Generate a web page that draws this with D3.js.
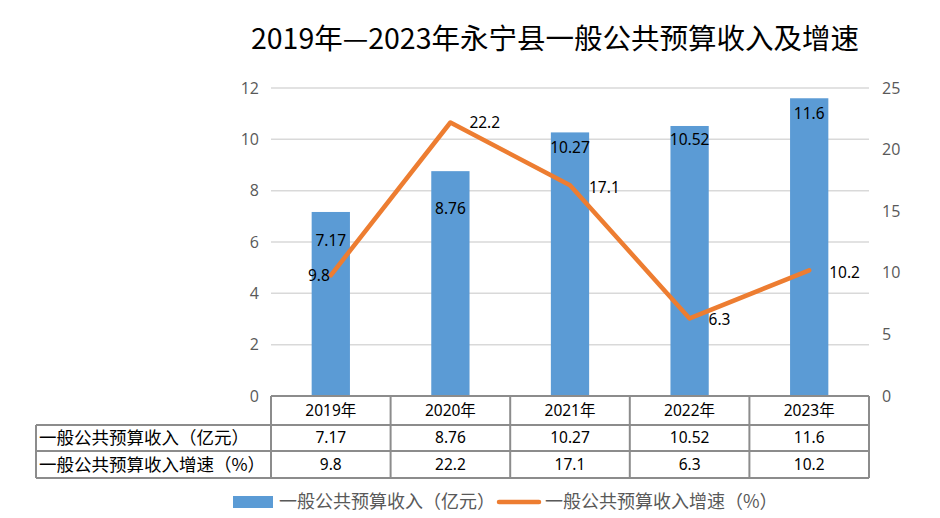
<!DOCTYPE html>
<html>
<head>
<meta charset="utf-8">
<script src="https://cdn.jsdelivr.net/npm/d3@7"></script>
<style>
  body { margin: 0; background: #fff; }
  svg { font-family: "Noto Sans", "Noto Sans CJK SC", sans-serif; }
</style>
</head>
<body>
<svg id="chart" width="940" height="518"></svg>
<script>
// data
const years = ["2019年", "2020年", "2021年", "2022年", "2023年"];
const revenue = [7.17, 8.76, 10.27, 10.52, 11.6];
const growth = [9.8, 22.2, 17.1, 6.3, 10.2];
const leftTicks = [0, 2, 4, 6, 8, 10, 12];
const rightTicks = [0, 5, 10, 15, 20, 25];
const revenueName = "一般公共预算收入（亿元）";
const growthName = "一般公共预算收入增速（%）";

// label nudges (px), picked by eye from the original
const barLabelDy = [29, 37, 15, 14, 15];
const lineLabelDx = [-1, 19, 19, 19, 20];
const lineLabelDy = [0, 0, 2, 1, 2];

const svg = d3.select("#chart");
const plotLeft = 271, plotRight = 869, plotTop = 88, plotBottom = 396;
const blue = "#5b9bd5", orange = "#ed7d31", gridC = "#d9d9d9", border = "#8c8c8c";

const x = d3.scaleBand().domain(years).range([plotLeft, plotRight]).padding(0);
const yL = d3.scaleLinear().domain([0, 12]).range([plotBottom, plotTop]);
const yR = d3.scaleLinear().domain([0, 25]).range([plotBottom, plotTop]);
const barW = x.bandwidth() * 0.32;

// title
svg.append("text")
  .attr("x", 555).attr("y", 49)
  .attr("text-anchor", "middle")
  .attr("font-family", "'Noto Sans CJK SC', sans-serif")
  .attr("font-size", 28.5)
  .attr("fill", "#000")
  .text("2019年—2023年永宁县一般公共预算收入及增速");

// gridlines
svg.append("g").selectAll("line")
  .data(leftTicks.filter(d => d > 0))
  .join("line")
  .attr("x1", plotLeft).attr("x2", plotRight)
  .attr("y1", d => yL(d)).attr("y2", d => yL(d))
  .attr("stroke", gridC).attr("stroke-width", 1.5);

// left axis
const axL = svg.append("g")
  .attr("transform", `translate(${plotLeft},0)`)
  .call(d3.axisLeft(yL).tickValues(leftTicks).tickSize(0).tickPadding(12));
axL.select(".domain").remove();
axL.selectAll("text").attr("font-size", 16).attr("fill", "#595959")
  .attr("font-family", "'Open Sans', sans-serif");

// right axis
const axR = svg.append("g")
  .attr("transform", `translate(${plotRight},0)`)
  .call(d3.axisRight(yR).tickValues(rightTicks).tickSize(0).tickPadding(13));
axR.select(".domain").remove();
axR.selectAll("text").attr("font-size", 16).attr("fill", "#595959")
  .attr("font-family", "'Open Sans', sans-serif");

// bars
svg.append("g").selectAll("rect")
  .data(revenue)
  .join("rect")
  .attr("x", (d, i) => x(years[i]) + x.bandwidth() / 2 - barW / 2)
  .attr("y", d => yL(d))
  .attr("width", barW)
  .attr("height", d => yL(0) - yL(d))
  .attr("fill", blue);

// bar labels
svg.append("g").selectAll("text")
  .data(revenue)
  .join("text")
  .attr("x", (d, i) => x(years[i]) + x.bandwidth() / 2)
  .attr("y", (d, i) => yL(d) + barLabelDy[i])
  .attr("dy", "0.35em")
  .attr("text-anchor", "middle")
  .attr("font-size", 15.5)
  .attr("fill", "#000")
  .text(d => d);

// growth line
const line = d3.line()
  .x((d, i) => x(years[i]) + x.bandwidth() / 2)
  .y(d => yR(d));
svg.append("path")
  .datum(growth)
  .attr("d", line)
  .attr("fill", "none")
  .attr("stroke", orange)
  .attr("stroke-width", 4.5)
  .attr("stroke-linejoin", "round")
  .attr("stroke-linecap", "round");

// line labels
svg.append("g").selectAll("text")
  .data(growth)
  .join("text")
  .attr("x", (d, i) => x(years[i]) + x.bandwidth() / 2 + lineLabelDx[i])
  .attr("y", (d, i) => yR(d) + lineLabelDy[i])
  .attr("dy", "0.35em")
  .attr("text-anchor", (d, i) => lineLabelDx[i] < 0 ? "end" : "start")
  .attr("font-size", 15.5)
  .attr("fill", "#000")
  .text(d => d);

// data table
const tableLeft = 36;
const rowY = [396, 425, 451, 478];
const table = svg.append("g");
table.selectAll("line.h")
  .data(rowY)
  .join("line")
  .attr("x1", (d, i) => i === 0 ? plotLeft : tableLeft)
  .attr("x2", plotRight)
  .attr("y1", d => d).attr("y2", d => d)
  .attr("stroke", border).attr("stroke-width", 2);
const colX = years.map(y => x(y)).concat([plotRight]);
table.append("g").selectAll("line")
  .data(colX)
  .join("line")
  .attr("x1", d => d).attr("x2", d => d)
  .attr("y1", rowY[0]).attr("y2", rowY[3])
  .attr("stroke", border).attr("stroke-width", 2);
table.append("line")
  .attr("x1", tableLeft).attr("x2", tableLeft)
  .attr("y1", rowY[1]).attr("y2", rowY[3])
  .attr("stroke", border).attr("stroke-width", 2);

const mid = r => (rowY[r] + rowY[r + 1]) / 2;
table.append("g").selectAll("text")
  .data(years)
  .join("text")
  .attr("x", d => x(d) + x.bandwidth() / 2)
  .attr("y", mid(0))
  .attr("dy", "0.35em")
  .attr("text-anchor", "middle")
  .attr("font-size", 15.5)
  .text(d => d);
[revenue, growth].forEach((row, r) => {
  table.append("g").selectAll("text")
    .data(row)
    .join("text")
    .attr("x", (d, i) => x(years[i]) + x.bandwidth() / 2)
    .attr("y", mid(r + 1))
    .attr("dy", "0.35em")
    .attr("text-anchor", "middle")
    .attr("font-size", 15.5)
    .text(d => d);
});
[revenueName, growthName].forEach((name, r) => {
  table.append("text")
    .attr("x", tableLeft + 3)
    .attr("y", mid(r + 1))
    .attr("dy", "0.35em")
    .attr("font-size", 17.5)
    .attr("font-family", "'Noto Sans CJK SC', sans-serif")
    .text(name);
});

// legend
const lg = svg.append("g").attr("font-family", "'Noto Sans CJK SC', sans-serif")
  .attr("font-size", 18).attr("fill", "#595959");
lg.append("rect").attr("x", 233).attr("y", 496).attr("width", 40).attr("height", 12).attr("fill", blue);
lg.append("text").attr("x", 279).attr("y", 502).attr("dy", "0.35em").text(revenueName);
lg.append("line").attr("x1", 499).attr("x2", 539).attr("y1", 502).attr("y2", 502)
  .attr("stroke", orange).attr("stroke-width", 4.5).attr("stroke-linecap", "round");
lg.append("text").attr("x", 545).attr("y", 502).attr("dy", "0.35em").text(growthName);
</script>
</body>
</html>
